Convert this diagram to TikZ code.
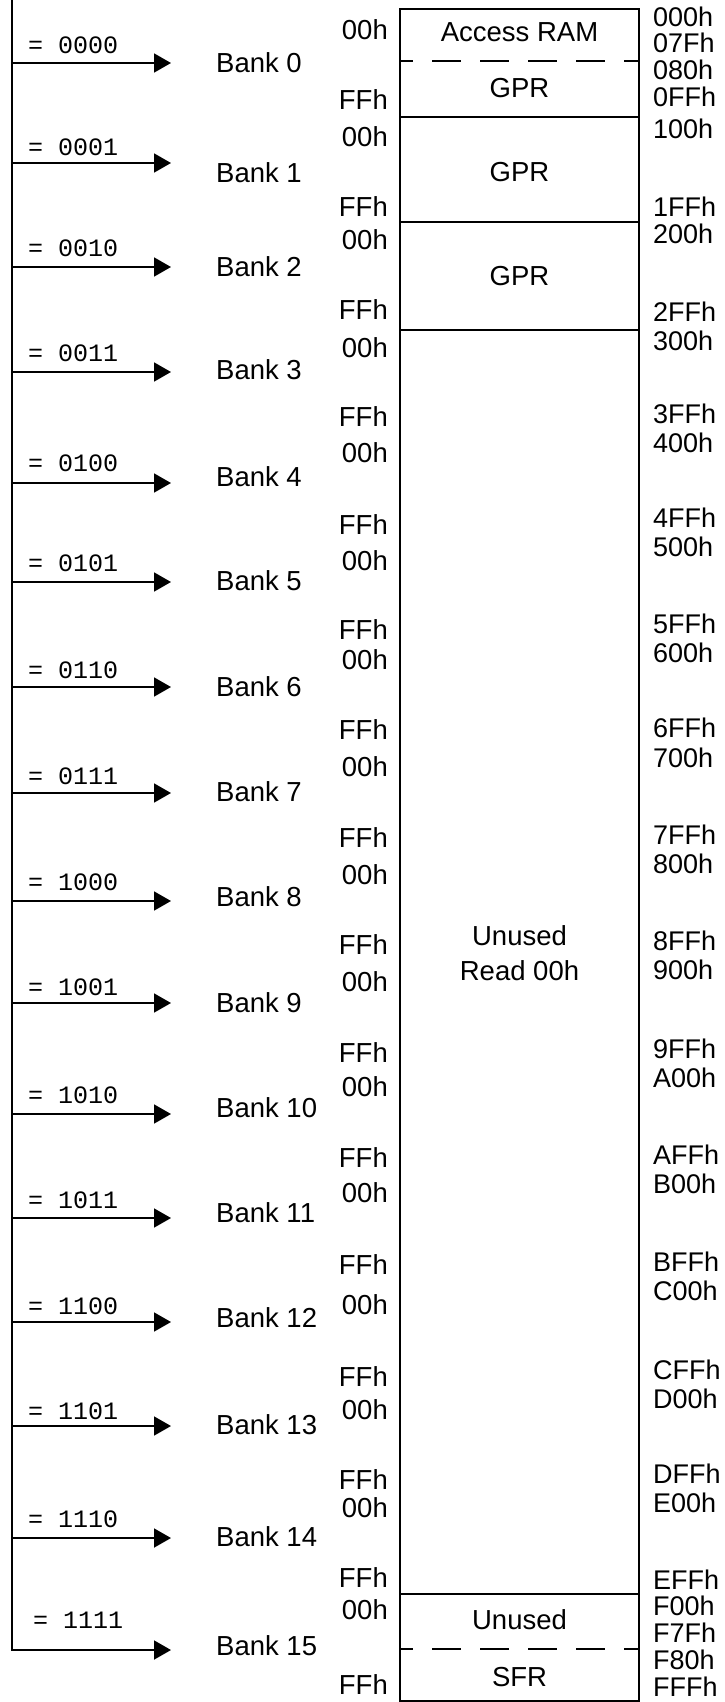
\documentclass[tikz,border=0pt]{standalone}
\usepackage{fontspec}
\setmainfont{Liberation Sans}
\newfontfamily\monofont{Liberation Mono}
\usetikzlibrary{arrows.meta}
\begin{document}
\begin{tikzpicture}[x=1pt,y=-1pt,
  txt/.style={font=\fontsize{27.5}{33}\selectfont, inner sep=0pt, text=black},
  addrtxt/.style={font=\fontsize{27}{32}\selectfont, inner sep=0pt, text=black, anchor=west},
  eqlbl/.style={font=\monofont\fontsize{25}{30}\selectfont, inner sep=0pt, anchor=west, text=black},
  wire/.style={line width=1.8pt},
  selarrow/.style={wire, -{Triangle[length=17pt,width=19pt]}},
  boxline/.style={line width=1.6pt},
  dashline/.style={line width=1.6pt, dash pattern=on 29pt off 19pt, dash phase=16pt}]
\useasboundingbox (0,0) rectangle (724,1702);

% selector lines and bank labels
\coordinate (vtop) at (12,-1);
\foreach \i/\ay/\by/\ex/\ey/\oy/\fy/\code in {
0/63/63/28/45/30/100/0000,
1/163/173/28/147/137/207/0001,
2/267/267/28/248/240/310/0010,
3/372/370/28/353/348/417/0011,
4/483/477/28/463/453/525/0100,
5/582/581/28/563/561/630/0101,
6/687/687/28/670/660/730/0110,
7/793/792/28/776/767/838/0111,
8/901/897/28/882/875/945/1000,
9/1003/1003/28/987/982/1053/1001,
10/1114/1108/28/1095/1087/1158/1010,
11/1218/1213/28/1200/1193/1265/1011,
12/1322/1318/28/1306/1305/1377/1100,
13/1426/1425/28/1411/1410/1480/1101,
14/1538/1537/28/1519/1508/1578/1110,
15/1650/1646/33/1620/1610/1685/1111}
{
  \coordinate (s\i) at (12,\ay);
  \coordinate (t\i) at (171,\ay);
  \ifnum\i<15
    \draw[selarrow] (s\i) -- (t\i);
  \else
    \draw[selarrow] (vtop) -- (s\i) -- (t\i);
  \fi
  \node[eqlbl] (eq\i) at (\ex,\ey) {= \code};
  \node[txt,anchor=west] (bank\i) at (216,\by) {Bank \i};
  \node[txt,anchor=east] (lo\i) at (388,\oy) {00h};
  \node[txt,anchor=east] (hi\i) at (388,\fy) {FFh};
}

% memory map box
\draw[boxline] (400,9) rectangle (639,1701);
\foreach \yy in {117,222,330,1594}
  \draw[boxline] (400,\yy) -- (639,\yy);
\draw[dashline] (400,61) -- (639,61);
\draw[dashline] (400,1649) -- (639,1649);

\node[txt] (acc) at (519.5,32) {Access RAM};
\node[txt] (gpr0) at (519.5,88) {GPR};
\node[txt] (gpr1) at (519.5,172) {GPR};
\node[txt] (gpr2) at (519.5,276) {GPR};
\node[txt,align=center] (unusedread) at (519.5,953) {Unused\\[2pt]Read 00h};
\node[txt] (unusedf) at (519.5,1620) {Unused};
\node[txt] (sfr) at (519.5,1677) {SFR};

% absolute addresses
\foreach \t/\y [count=\n] in {000h/17,07Fh/43,080h/70,0FFh/97,100h/129,
  1FFh/207,200h/234,2FFh/312,300h/341,3FFh/414,400h/443,4FFh/518,500h/547,
  5FFh/624,600h/653,6FFh/728,700h/758,7FFh/835,800h/864,8FFh/941,900h/970,
  9FFh/1049,A00h/1078,AFFh/1155,B00h/1184,BFFh/1262,C00h/1291,CFFh/1370,
  D00h/1399,DFFh/1474,E00h/1503,EFFh/1580,F00h/1606,F7Fh/1633,F80h/1660,FFFh/1687}
  \node[addrtxt] (addr\n) at (653,\y) {\t};
\end{tikzpicture}
\end{document}
